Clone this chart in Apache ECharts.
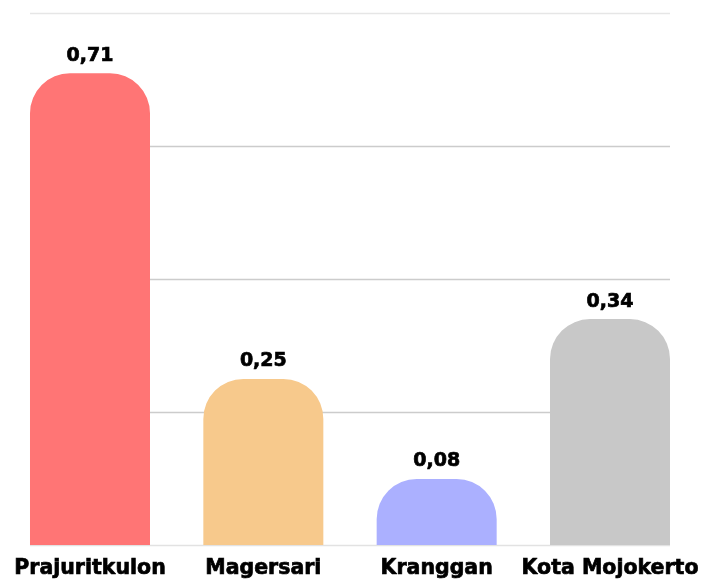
<!DOCTYPE html>
<html>
<head>
<meta charset="utf-8">
<script src="https://cdn.jsdelivr.net/npm/echarts@6/dist/echarts.min.js"></script>
<style>
  html, body { margin: 0; padding: 0; background: #fff; }
  #chart { width: 702px; height: 583px; }
</style>
</head>
<body>
<div id="chart"></div>
<script>
// data
var categories = ['Prajuritkulon', 'Magersari', 'Kranggan', 'Kota Mojokerto']
var values = [0.71, 0.25, 0.08, 0.34]
var barColors = ['#FF7575', '#F7C98C', '#ABB0FF', '#C8C8C8']
var yMax = 0.8
var yStep = 0.2

var chart = echarts.init(document.getElementById('chart'))
var font = 'DejaVu Sans'

var options = {
  animation: false,
  grid: [
    // bars
    { left: 3.33, right: 5.33, top: 13.5, bottom: 38 },
    // gridlines only
    { left: 30, right: 32, top: 13.5, bottom: 38 }
  ],
  xAxis: [
    {
      type: 'category',
      gridIndex: 0,
      data: categories,
      axisLine: { show: false },
      axisTick: { show: false },
      axisLabel: {
        interval: 0,
        hideOverlap: false,
        color: '#000',
        fontFamily: font,
        fontWeight: 'bold',
        fontSize: 20.5,
        // 描边让字体更粗
        textBorderColor: '#000',
        textBorderWidth: 0.7,
        margin: 13
      }
    },
    {
      type: 'value',
      gridIndex: 1,
      show: false
    }
  ],
  yAxis: [
    {
      type: 'value',
      gridIndex: 0,
      min: 0,
      max: yMax,
      interval: yStep,
      show: false,
      splitLine: { show: false }
    },
    {
      type: 'value',
      gridIndex: 1,
      min: 0,
      max: yMax,
      interval: yStep,
      axisLine: { show: false },
      axisTick: { show: false },
      axisLabel: { show: false },
      // 基线和顶线颜色较浅
      splitLine: {
        show: true,
        lineStyle: {
          color: ['#e2e2e2', '#cccccc', '#cccccc', '#cccccc', '#e6e6e6'],
          width: 1.3
        }
      }
    }
  ],
  series: [
    {
      type: 'bar',
      xAxisIndex: 0,
      yAxisIndex: 0,
      barWidth: 120,
      barMinHeight: 66,
      data: values.map(function (v, i) {
        return { value: v, itemStyle: { color: barColors[i] } }
      }),
      itemStyle: { borderRadius: [40, 40, 0, 0] },
      label: {
        show: true,
        position: 'top',
        distance: 8,
        color: '#000',
        fontFamily: font,
        fontWeight: 'bold',
        fontSize: 19,
        textBorderColor: '#000',
        textBorderWidth: 0.7,
        formatter: function (p) {
          return p.value.toFixed(2).replace('.', ',')
        }
      }
    }
  ]
}
chart.setOption(options)
</script>
</body>
</html>
